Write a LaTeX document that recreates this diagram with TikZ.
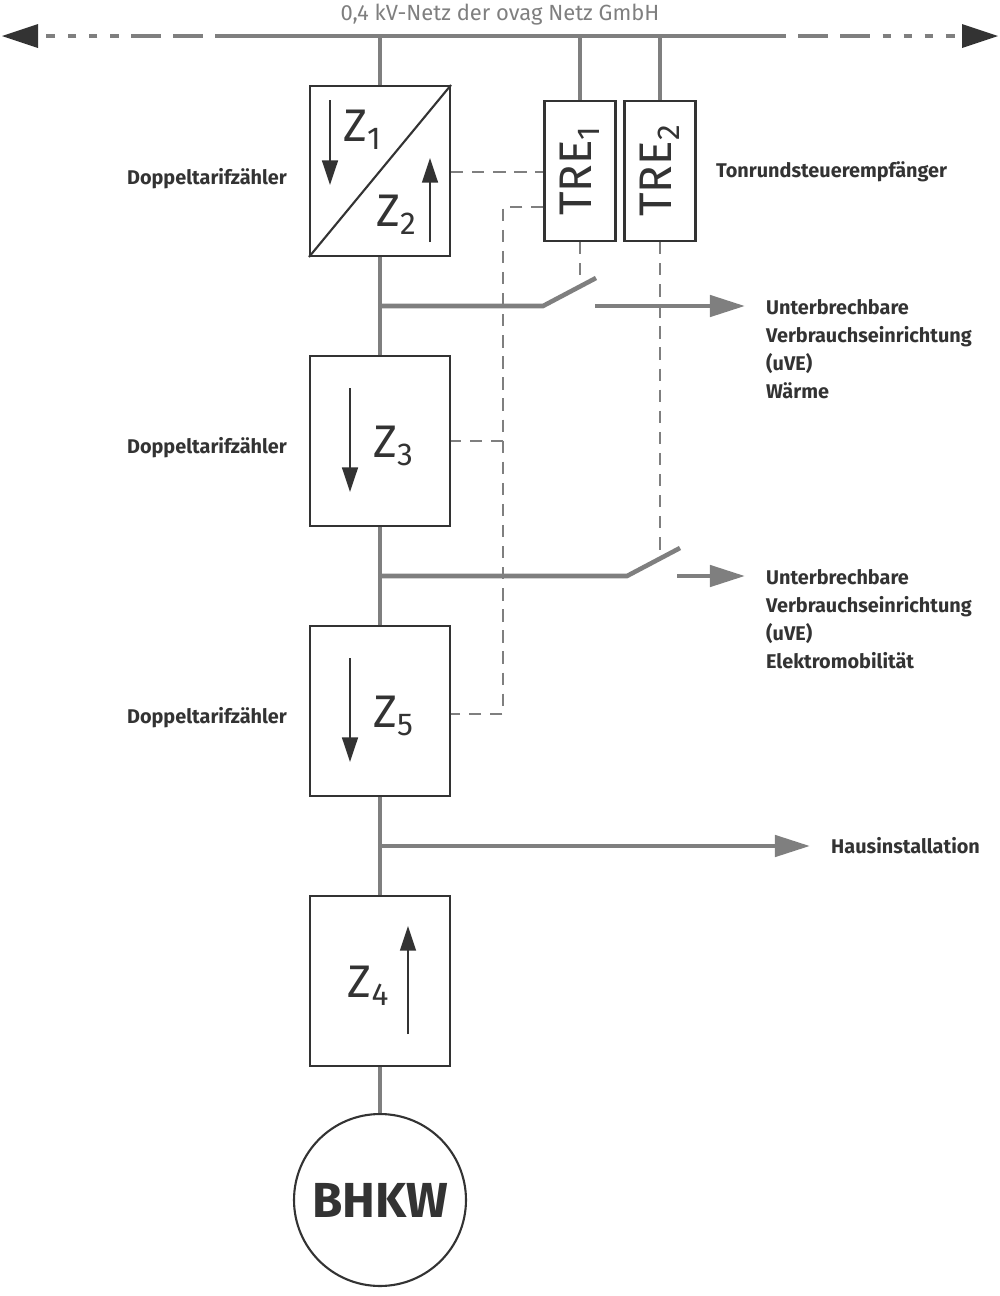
\documentclass[tikz,border=0pt]{standalone}
\usepackage{fontspec}
\setmainfont{Fira Sans}
\usepackage{tikz}
\usetikzlibrary{arrows.meta, calc, positioning}
\definecolor{Ink}{HTML}{333333}
\definecolor{Wire}{HTML}{7F7F7F}
\newcommand{\zsub}[1]{\raisebox{-0.35ex}{\fontsize{18}{20}\selectfont #1}}
\tikzset{
  wire/.style={line width=2.6pt, color=Wire},
  feed/.style={-{Triangle[length=20pt, width=12pt]}, line width=2.6pt, color=Wire},
  ctrl/.style={dash pattern=on 7pt off 5pt, color=Wire, line width=1pt},
  meter/.style={draw=Ink, line width=1.2pt, minimum width=2.8cm, minimum height=3.4cm, fill=white},
  tre/.style={draw=Ink, line width=1.2pt, minimum width=1.42cm, minimum height=2.8cm},
  flow/.style={-{Triangle[length=14pt, width=9pt]}, line width=1.2pt, color=Ink},
  label/.style={color=Ink, font=\bfseries\fontsize{11.3}{15.9}\selectfont, align=left},
  zlabel/.style={color=Ink, font=\fontsize{26}{30}\selectfont},
}
\begin{document}
\begin{tikzpicture}[x=0.02cm, y=-0.02cm]
  \useasboundingbox (0,0) rectangle (1000,1296);

  % Netz
  \node[color=Wire, font=\fontsize{12.5}{15}\selectfont] (netz) at (500,15) {0,4 kV-Netz der ovag Netz GmbH};
  \coordinate (busL) at (245,36);
  \coordinate (busR) at (756,36);
  \draw[wire] (busL) -- (busR);
  \draw[wire, dash pattern=on 17pt off 7pt on 17pt off 7pt on 17pt off 7pt on 5pt off 7pt on 5pt off 7pt on 5pt off 7pt on 5pt off 7pt]
    (busL) -- (38,36);
  \draw[wire, dash pattern=on 17pt off 7pt on 17pt off 7pt on 17pt off 7pt on 5pt off 7pt on 5pt off 7pt on 5pt off 7pt on 5pt off 7pt]
    (busR) -- (962,36);
  \fill[Ink] (2,36) -- (38,24) -- (38,48) -- cycle;
  \fill[Ink] (998,36) -- (962,24) -- (962,48) -- cycle;

  % Zaehler
  \node[meter] (z12) at (380,171) {};
  \node[meter] (z3) at (380,441) {};
  \node[meter] (z5) at (380,711) {};
  \node[meter] (z4) at (380,981) {};
  \node[circle, draw=Ink, line width=1.2pt, inner sep=0pt, minimum size=3.44cm, font=\bfseries\fontsize{28}{32}\selectfont, text=Ink] (bhkw) at (380,1200) {BHKW};

  \draw[wire] (380,36) -- (z12.north);
  \draw[wire] (z12.south) -- (z3.north);
  \draw[wire] (z3.south) -- (z5.north);
  \draw[wire] (z5.south) -- (z4.north);
  \draw[wire] (z4.south) -- (bhkw.north);

  \draw[Ink, line width=1.2pt] (z12.south west) -- (z12.north east);
  \node[zlabel] at (362,130) {Z\zsub{1}};
  \node[zlabel] at (396,215) {Z\zsub{2}};
  \draw[flow] (330,100) -- (330,185);
  \draw[flow] (430,242) -- (430,158);
  \node[zlabel] at (393,446) {Z\zsub{3}};
  \draw[flow] (350,388) -- (350,492);
  \node[zlabel] at (393,716) {Z\zsub{5}};
  \draw[flow] (350,658) -- (350,762);
  \node[zlabel] at (368,986) {Z\zsub{4}};
  \draw[flow] (408,1034) -- (408,926);

  \node[label, anchor=east] (dt1) at (293,179) {Doppeltarifzähler};
  \node[label, anchor=east] (dt2) at (293,448) {Doppeltarifzähler};
  \node[label, anchor=east] (dt3) at (293,718) {Doppeltarifzähler};

  % Tonrundsteuerempfaenger
  \node[tre] (tre1) at (580,171) {\rotatebox{90}{\fontsize{26}{30}\selectfont\color{Ink}TRE\zsub{1}}};
  \node[tre] (tre2) at (660,171) {\rotatebox{90}{\fontsize{26}{30}\selectfont\color{Ink}TRE\zsub{2}}};
  \draw[wire] (580,36) -- (tre1.north);
  \draw[wire] (660,36) -- (tre2.north);
  \node[label, anchor=west] (trelbl) at (710,172) {Tonrundsteuerempfänger};

  \draw[ctrl] (z12.east |- 0,172) -- (tre1.west |- 0,172);
  \draw[ctrl] (tre1.west |- 0,207) -- (503,207) -- (503,714) -- (z5.east |- 0,714);
  \draw[ctrl] (503,441) -- (z3.east |- 0,441);
  \draw[ctrl] (tre1.south) -- (580,283);
  \draw[ctrl] (tre2.south) -- (660,556);

  % Schalter und Abgaenge
  \coordinate (s1) at (543,306);
  \coordinate (s2) at (627,576);
  \draw[wire] (380,306) -- (s1) -- ++(53,-28);
  \draw[feed] (595,306) -- (745,306);
  \draw[wire] (380,576) -- (s2) -- ++(53,-28);
  \draw[feed] (677,576) -- (745,576);
  \draw[feed] (380,846) -- (810,846);

  \node[label, anchor=north west] (uve1) at (760,293) {Unterbrechbare\\Verbrauchseinrichtung\\(uVE)\\Wärme};
  \node[label, anchor=north west] (uve2) at (760,563) {Unterbrechbare\\Verbrauchseinrichtung\\(uVE)\\Elektromobilität};
  \node[label, anchor=west] (haus) at (825,846) {Hausinstallation};
\end{tikzpicture}
\end{document}
